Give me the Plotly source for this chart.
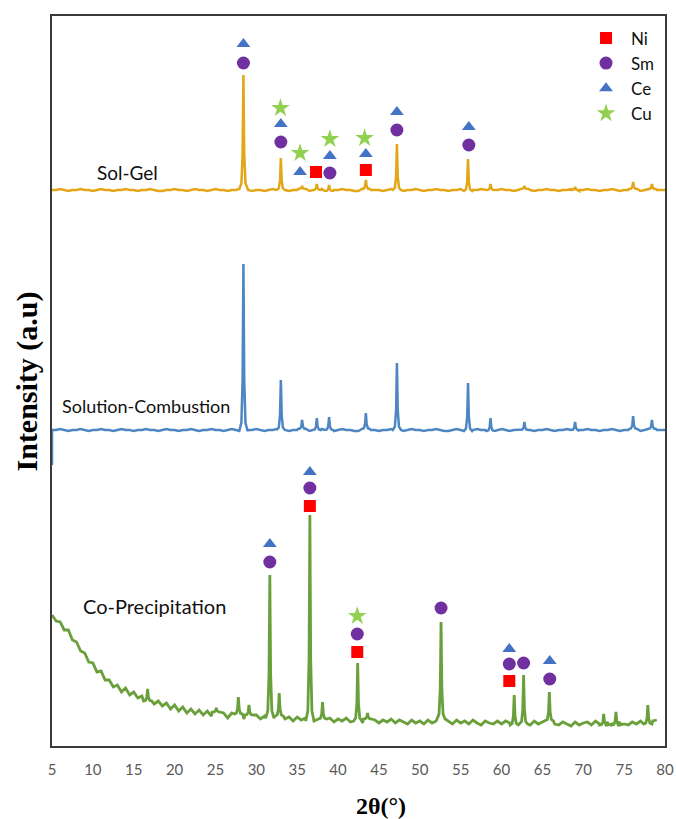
import numpy as np
import plotly.graph_objects as go

# ---------------- data ----------------
two_theta_ticks = [5, 10, 15, 20, 25, 30, 35, 40, 45, 50, 55, 60, 65, 70, 75, 80]

# baseline samples every 0.5 deg (intensity, a.u., stacked)
grid_full = np.arange(5.0, 80.01, 0.5)      # 151 points
grid_green = np.arange(5.0, 79.01, 0.5)     # 149 points

sol_gel_base = [
    556, 556, 557, 556, 555, 556, 556, 557, 556, 556, 555, 556, 557, 556, 556, 555, 556, 556, 557, 556,
    556, 555, 556, 556, 557, 556, 555, 555, 556, 556, 557, 556, 556, 555, 556, 557, 556, 556, 555, 556,
    557, 556, 556, 555, 556, 556, 557, 557, 556, 555, 556, 556, 555, 556, 557, 556, 556, 556, 555, 556,
    556, 557, 556, 555, 556, 556, 557, 556, 555, 556, 556, 557, 556, 556, 555, 555, 556, 557, 556, 556,
    556, 555, 556, 557, 556, 556, 555, 556, 556, 557, 556, 555, 556, 556, 557, 556, 556, 555, 556, 556,
    557, 556, 555, 556, 556, 557, 556, 556, 555, 556, 557, 556, 556, 555, 556, 556, 557, 556, 555, 556,
    556, 557, 556, 556, 555, 556, 556, 557, 556, 555, 556, 557, 556, 556, 555, 556, 556, 557, 556, 555,
    556, 556, 557, 556, 555, 556, 556, 557, 556, 556, 556]
sol_gel_peak_pos = [28.42, 33.0, 35.6, 37.4, 38.9, 43.4, 47.2, 55.9, 58.65, 62.8, 69.0, 76.1, 78.4]
sol_gel_peak_top = [671, 588, 560, 562, 561, 566, 602, 587, 562, 560, 559, 564, 562]

combustion_start = 281
combustion_base = [
    316, 316, 317, 316, 315, 316, 316, 317, 316, 315, 316, 316, 317, 316, 316, 315, 316, 317, 316, 316,
    315, 316, 316, 317, 316, 316, 315, 316, 317, 316, 316, 315, 316, 316, 317, 316, 315, 316, 316, 317,
    316, 316, 315, 316, 317, 316, 316, 315, 316, 316, 317, 316, 315, 316, 316, 317, 316, 316, 315, 316,
    316, 317, 316, 315, 316, 316, 317, 316, 316, 315, 316, 317, 316, 316, 315, 315, 316, 317, 316, 316,
    315, 316, 316, 317, 316, 316, 315, 316, 317, 316, 316, 315, 316, 316, 317, 316, 315, 315, 316, 317,
    316, 316, 315, 316, 317, 316, 316, 315, 316, 316, 317, 316, 315, 316, 316, 317, 316, 316, 315, 316,
    316, 317, 316, 315, 316, 316, 317, 316, 316, 315, 316, 317, 316, 316, 315, 316, 316, 317, 316, 315,
    316, 316, 317, 316, 315, 316, 316, 317, 316, 316, 316]
combustion_peak_pos = [28.42, 33.0, 35.6, 37.4, 38.9, 43.4, 47.2, 55.9, 58.65, 62.8, 69.0, 76.1, 78.4]
combustion_peak_top = [482, 366, 326, 328, 329, 333, 383, 363, 328, 324, 324, 330, 326]

coprecip_base = [
    131, 125, 124, 116, 116, 106, 104, 95, 93, 84,
    83, 74, 75, 66, 66, 59, 61, 54, 58, 51,
    54, 48, 50, 45, 48, 42, 45, 40, 43, 37,
    41, 35, 39, 33, 37, 32, 36, 31, 35, 30,
    34, 29, 33, 28, 33, 28, 32, 27, 31, 28,
    31, 27, 30, 28, 29, 26, 30, 27, 29, 25,
    29, 26, 28, 25, 28, 26, 27, 25, 28, 24,
    27, 25, 28, 24, 27, 25, 23, 27, 24, 26,
    23, 26, 24, 27, 23, 26, 24, 22, 26, 23,
    25, 22, 26, 23, 25, 27, 23, 25, 22, 26,
    23, 25, 22, 26, 23, 21, 25, 23, 22, 25,
    22, 25, 23, 21, 25, 22, 24, 21, 25, 22,
    24, 21, 25, 22, 21, 24, 22, 20, 24, 21,
    23, 24, 21, 25, 22, 21, 24, 22, 21, 24,
    22, 21, 24, 22, 25, 23, 22, 25, 26]
coprecip_peak_pos = [16.7, 25.1, 27.8, 29.1, 31.65, 32.8, 36.55, 38.1, 42.4, 43.6, 52.6,
                     61.55, 62.7, 65.85, 72.5, 74.0, 77.9]
coprecip_peak_top = [57, 38, 49, 41, 171, 53, 231, 44, 83, 33, 124, 51, 71, 54, 32, 34, 41]

# phase markers (2theta, vertical placement in a.u.)
ni_x = [37.3, 43.4, 36.55, 42.35, 60.95]
ni_y = [574, 576, 240, 94, 65]
sm_x = [28.42, 33.0, 39.0, 47.2, 56.0, 31.65, 36.55, 42.35, 52.6, 60.95, 62.7, 65.9]
sm_y = [683, 604, 573, 616, 601, 184, 258, 112, 138, 82, 83, 67]
ce_x = [28.42, 33.0, 35.35, 39.0, 43.4, 47.2, 56.0, 31.65, 36.55, 60.95, 65.9]
ce_y = [702, 622, 574, 590, 592, 634, 619, 202, 274, 97, 85]
cu_x = [32.95, 35.35, 39.0, 43.25, 42.35]
cu_y = [638, 593, 607, 608, 130]

# peak profile used to draw each reflection (offset in deg, fraction of peak height)
profile_dx = [-0.5, -0.25, -0.1, 0.0, 0.1, 0.25, 0.5]
profile_fr = [0.0, 0.05, 0.3, 1.0, 0.3, 0.05, 0.0]


def build_pattern(grid, base, peak_pos, peak_top):
    xs = np.round(grid, 3)
    pts = [(x, y) for x, y in zip(xs, base)
           if all(abs(x - p) >= 0.5 for p in peak_pos)]
    for p, t in zip(peak_pos, peak_top):
        b = base[int(np.argmin(np.abs(xs - p)))]
        for dx, fr in zip(profile_dx, profile_fr):
            pts.append((p + dx, b + fr * (t - b)))
    pts.sort(key=lambda q: q[0])
    return [q[0] for q in pts], [q[1] for q in pts]


sg_x, sg_y = build_pattern(grid_full, sol_gel_base, sol_gel_peak_pos, sol_gel_peak_top)
sc_x, sc_y = build_pattern(grid_full, combustion_base, combustion_peak_pos, combustion_peak_top)
sc_x = [5.0] + sc_x
sc_y = [combustion_start] + sc_y
cp_x, cp_y = build_pattern(grid_green, coprecip_base, coprecip_peak_pos, coprecip_peak_top)

fig = go.Figure()
fig.add_trace(go.Scatter(x=cp_x, y=cp_y, mode="lines", line=dict(color="#6AA03C", width=2.8),
                         showlegend=False, hoverinfo="skip"))
fig.add_trace(go.Scatter(x=sc_x, y=sc_y, mode="lines", line=dict(color="#4D86C2", width=2.5),
                         showlegend=False, hoverinfo="skip"))
fig.add_trace(go.Scatter(x=sg_x, y=sg_y, mode="lines", line=dict(color="#E2A616", width=2.5),
                         showlegend=False, hoverinfo="skip"))

fig.add_trace(go.Scatter(x=ni_x, y=ni_y, mode="markers", name="Ni", legendgroup="a",
                         marker=dict(symbol="square", size=12, color="#FF0000")))
fig.add_trace(go.Scatter(x=sm_x, y=sm_y, mode="markers", name="Sm", legendgroup="b",
                         marker=dict(symbol="circle", size=13, color="#7030A0")))
fig.add_trace(go.Scatter(x=ce_x, y=ce_y, mode="markers", name="Ce", legendgroup="c",
                         marker=dict(symbol="triangle-up", size=12, color="#4472C4")))
fig.add_trace(go.Scatter(x=cu_x, y=cu_y, mode="markers", name="Cu", legendgroup="d",
                         marker=dict(symbol="star", size=14, color="#92D050")))

fig.add_annotation(x=10.2, y=574, text="Sol-Gel", showarrow=False, xanchor="left",
                   yanchor="middle", font=dict(family="Lato", size=19, color="#111111"))
fig.add_annotation(x=5.95, y=340, text="Solution-Combustion", showarrow=False, xanchor="left",
                   yanchor="middle", font=dict(family="Lato", size=18, color="#111111"))
fig.add_annotation(x=8.6, y=140, text="Co-Precipitation", showarrow=False, xanchor="left",
                   yanchor="middle", font=dict(family="Lato", size=20, color="#111111"))

fig.add_annotation(xref="paper", yref="paper", x=-0.04, y=0.5, text="<b>Intensity (a.u)</b>",
                   textangle=-90, showarrow=False, xanchor="center", yanchor="middle",
                   font=dict(family="Liberation Serif", size=30, color="#000000"))
fig.add_annotation(xref="paper", yref="paper", x=0.5375, y=-0.082, text="<b>2θ(°)</b>",
                   showarrow=False, xanchor="center", yanchor="middle",
                   font=dict(family="Liberation Serif", size=24, color="#000000"))

fig.update_xaxes(range=[5, 80], tickvals=two_theta_ticks, ticks="", showgrid=False, zeroline=False,
                 showline=True, mirror=True, linecolor="#3A3A3A", linewidth=2, automargin=False,
                 tickfont=dict(family="Lato", size=15, color="#595959"), ticklabelstandoff=9)
fig.update_yaxes(range=[0, 730], showticklabels=False, ticks="", showgrid=False, zeroline=False,
                 showline=True, mirror=True, linecolor="#3A3A3A", linewidth=2, automargin=False)

fig.update_layout(
    width=676, height=819,
    margin=dict(l=52, r=11, t=16, b=73, autoexpand=False),
    paper_bgcolor="white", plot_bgcolor="white",
    legend=dict(x=0.863, y=0.994, xanchor="left", yanchor="top", bgcolor="rgba(0,0,0,0)",
                font=dict(family="Lato", size=17, color="#111111"), itemwidth=40,
                tracegroupgap=0, traceorder="grouped"),
)

fig.write_html("out.html", config={"displayModeBar": False},
               post_script="document.body.style.margin='0px';document.body.style.overflow='hidden';")
